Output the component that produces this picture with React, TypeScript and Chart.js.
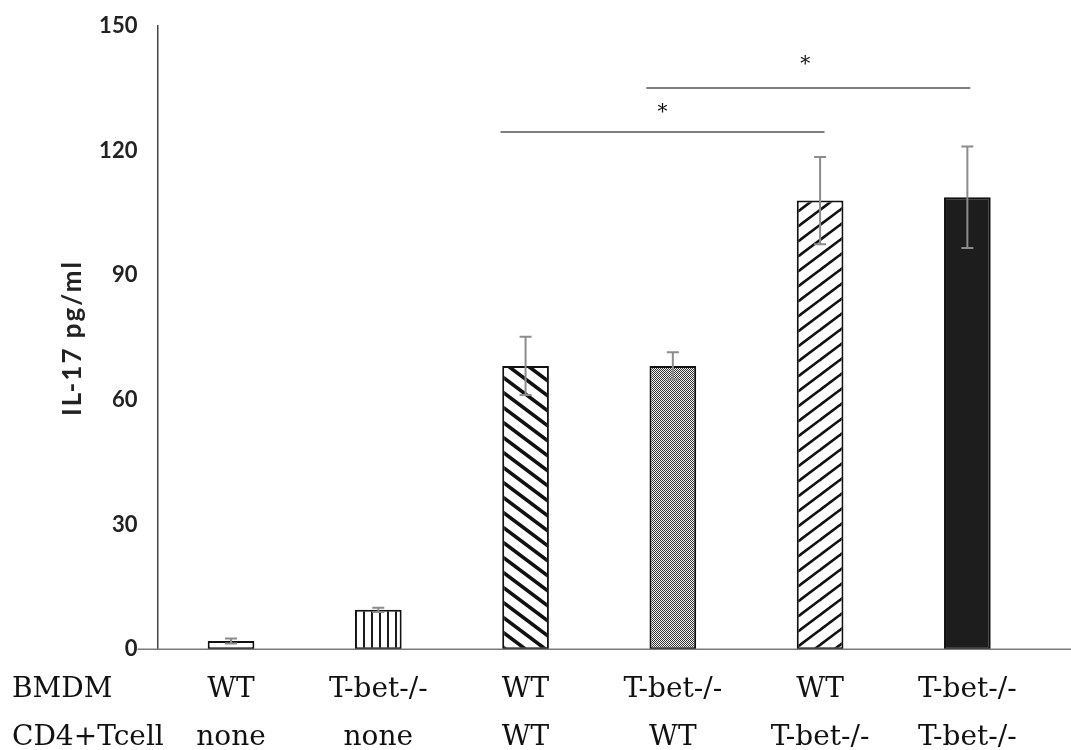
import React, { useEffect, useRef } from 'react';
import { Chart, registerables } from 'chart.js';

Chart.register(...registerables);

const bmdmLabels = ['WT', 'T-bet-/-', 'WT', 'T-bet-/-', 'WT', 'T-bet-/-'];
const cd4Labels = ['none', 'none', 'WT', 'WT', 'T-bet-/-', 'T-bet-/-'];
const il17Means = [2.0, 9.5, 68.2, 68.2, 108.0, 108.8];
const il17Errors = [0.6, 0.5, 7.0, 3.3, 10.5, 12.2];
const yTickValues = [0, 30, 60, 90, 120, 150];
const rowTitles = ['BMDM', 'CD4+Tcell'];
const yAxisTitle = 'IL-17 pg/ml';

// significance brackets (category index units, pg/ml)
const sigFrom = [1.83, 2.82];
const sigTo = [4.03, 5.02];
const sigLevel = [124.5, 135.1];
const sigText = ['*', '*'];
const sigTextAt = [2.93, 3.9];
const sigTextLevel = [129.1, 140.7];

const fillKinds = ['plain', 'vert', 'back', 'checker', 'fwd', 'solid'];

function makeFill(kind: string): any {
  if (kind === 'plain') return '#ffffff';
  if (kind === 'solid') return '#1d1d1d';
  const c = document.createElement('canvas');
  let ctx: CanvasRenderingContext2D;
  if (kind === 'vert') {
    c.width = 8; c.height = 8;
    ctx = c.getContext('2d')!;
    ctx.fillStyle = '#fff'; ctx.fillRect(0, 0, 8, 8);
    ctx.fillStyle = '#1a1a1a'; ctx.fillRect(3, 0, 2, 8);
  } else if (kind === 'checker') {
    c.width = 2; c.height = 2;
    ctx = c.getContext('2d')!;
    ctx.fillStyle = '#f4f4f4'; ctx.fillRect(0, 0, 2, 2);
    ctx.fillStyle = '#333'; ctx.fillRect(0, 0, 1, 1); ctx.fillRect(1, 1, 1, 1);
  } else {
    const w = 20, h = 15;
    c.width = w; c.height = h;
    ctx = c.getContext('2d')!;
    ctx.fillStyle = '#fff'; ctx.fillRect(0, 0, w, h);
    ctx.strokeStyle = '#111';
    ctx.lineWidth = kind === 'back' ? 3.6 : 2.6;
    for (let k = -2; k <= 2; k++) {
      ctx.beginPath();
      if (kind === 'back') {
        ctx.moveTo(-w, k * h - h); ctx.lineTo(2 * w, k * h + 2 * h);
      } else {
        ctx.moveTo(-w, k * h + h); ctx.lineTo(2 * w, k * h - 2 * h);
      }
      ctx.stroke();
    }
  }
  const tmp = document.createElement('canvas').getContext('2d')!;
  return tmp.createPattern(c, 'repeat');
}

const serifFont = '"DejaVu Serif", serif';
const sansFont = 'Lato, "Open Sans", sans-serif';

const decorPlugin = {
  id: 'decor',
  afterDatasetsDraw(chart: any) {
    const ctx = chart.ctx;
    const xs = chart.scales.x;
    const ys = chart.scales.y;
    const area = chart.chartArea;
    ctx.save();
    // x axis line
    const y0 = ys.getPixelForValue(0);
    ctx.strokeStyle = '#7a7a7a';
    ctx.lineWidth = 1.5;
    ctx.beginPath();
    ctx.moveTo(area.left - 20, y0);
    ctx.lineTo(chart.width, y0);
    ctx.stroke();
    // error bars
    ctx.strokeStyle = '#8c8c8c';
    ctx.lineWidth = 2;
    il17Means.forEach((m, i) => {
      const x = xs.getPixelForValue(i);
      const yt = ys.getPixelForValue(m + il17Errors[i]);
      const yb = ys.getPixelForValue(m - il17Errors[i]);
      ctx.beginPath();
      ctx.moveTo(x, yt); ctx.lineTo(x, yb);
      ctx.moveTo(x - 6, yt); ctx.lineTo(x + 6, yt);
      ctx.moveTo(x - 6, yb); ctx.lineTo(x + 6, yb);
      ctx.stroke();
    });
    // significance lines
    ctx.strokeStyle = '#555';
    ctx.lineWidth = 1.5;
    sigFrom.forEach((f, i) => {
      const yy = ys.getPixelForValue(sigLevel[i]);
      ctx.beginPath();
      ctx.moveTo(xs.getPixelForValue(f), yy);
      ctx.lineTo(xs.getPixelForValue(sigTo[i]), yy);
      ctx.stroke();
    });
    ctx.fillStyle = '#111';
    ctx.font = '20px ' + serifFont;
    ctx.textAlign = 'center';
    ctx.textBaseline = 'middle';
    sigText.forEach((t, i) => {
      ctx.fillText(t, xs.getPixelForValue(sigTextAt[i]), ys.getPixelForValue(sigTextLevel[i]));
    });
    // row titles
    ctx.font = '28px ' + serifFont;
    ctx.textAlign = 'left';
    ctx.fillStyle = '#111';
    const lineH = 48;
    const firstY = y0 + 16 + lineH / 2;
    rowTitles.forEach((t, i) => {
      ctx.fillText(t, 12, firstY + i * lineH);
    });
    // y axis title
    ctx.translate(73, 338);
    ctx.rotate(-Math.PI / 2);
    ctx.font = 'bold 26px ' + sansFont;
    try { (ctx as any).letterSpacing = '2px'; } catch (e) {}
    ctx.textAlign = 'center';
    ctx.fillStyle = '#222';
    ctx.fillText(yAxisTitle, 0, 0);
    ctx.restore();
  },
};

export default function App() {
  const ref = useRef<HTMLCanvasElement>(null);
  useEffect(() => {
    document.body.style.margin = '0';
    const fills = fillKinds.map(makeFill);
    const chart = new Chart(ref.current!, {
      type: 'bar',
      data: {
        labels: bmdmLabels.map((b, i) => [b, cd4Labels[i]]),
        datasets: [
          {
            data: il17Means,
            backgroundColor: fills,
            borderColor: '#111',
            borderWidth: 2,
            borderSkipped: false,
            barPercentage: 0.317,
            categoryPercentage: 1,
          },
        ],
      },
      options: {
        animation: false,
        responsive: false,
        devicePixelRatio: 1,
        layout: { padding: { left: 0, right: 30, top: 26, bottom: 0 } },
        plugins: { legend: { display: false }, title: { display: false }, tooltip: { enabled: false } },
        scales: {
          x: {
            grid: { display: false, drawTicks: false },
            border: { display: false },
            ticks: {
              padding: 16,
              color: '#111',
              maxRotation: 0,
              autoSkip: false,
              font: { family: serifFont, size: 28, lineHeight: 48 / 28 },
            },
            afterFit: (s: any) => {
              s.height = 100.7;
              s.paddingTop = 0; s.paddingBottom = 0; s.paddingLeft = 0; s.paddingRight = 0;
            },
          },
          y: {
            min: 0,
            max: 150,
            grid: { display: false, drawTicks: false },
            border: { display: true, color: '#444', width: 1.5 },
            afterBuildTicks: (s: any) => { s.ticks = yTickValues.map((v) => ({ value: v })); },
            ticks: {
              padding: 20,
              color: '#222',
              font: { family: sansFont, size: 22, weight: 'bold' },
            },
            afterFit: (s: any) => {
              s.width = 157.4;
              s.paddingTop = 0; s.paddingBottom = 0; s.paddingLeft = 0; s.paddingRight = 0;
            },
          },
        },
      },
      plugins: [decorPlugin],
    });
    return () => chart.destroy();
  }, []);
  return (
    <div style={{ width: 1071, height: 750, background: '#fff' }}>
      <canvas ref={ref} width={1071} height={750} style={{ display: 'block' }} />
    </div>
  );
}
